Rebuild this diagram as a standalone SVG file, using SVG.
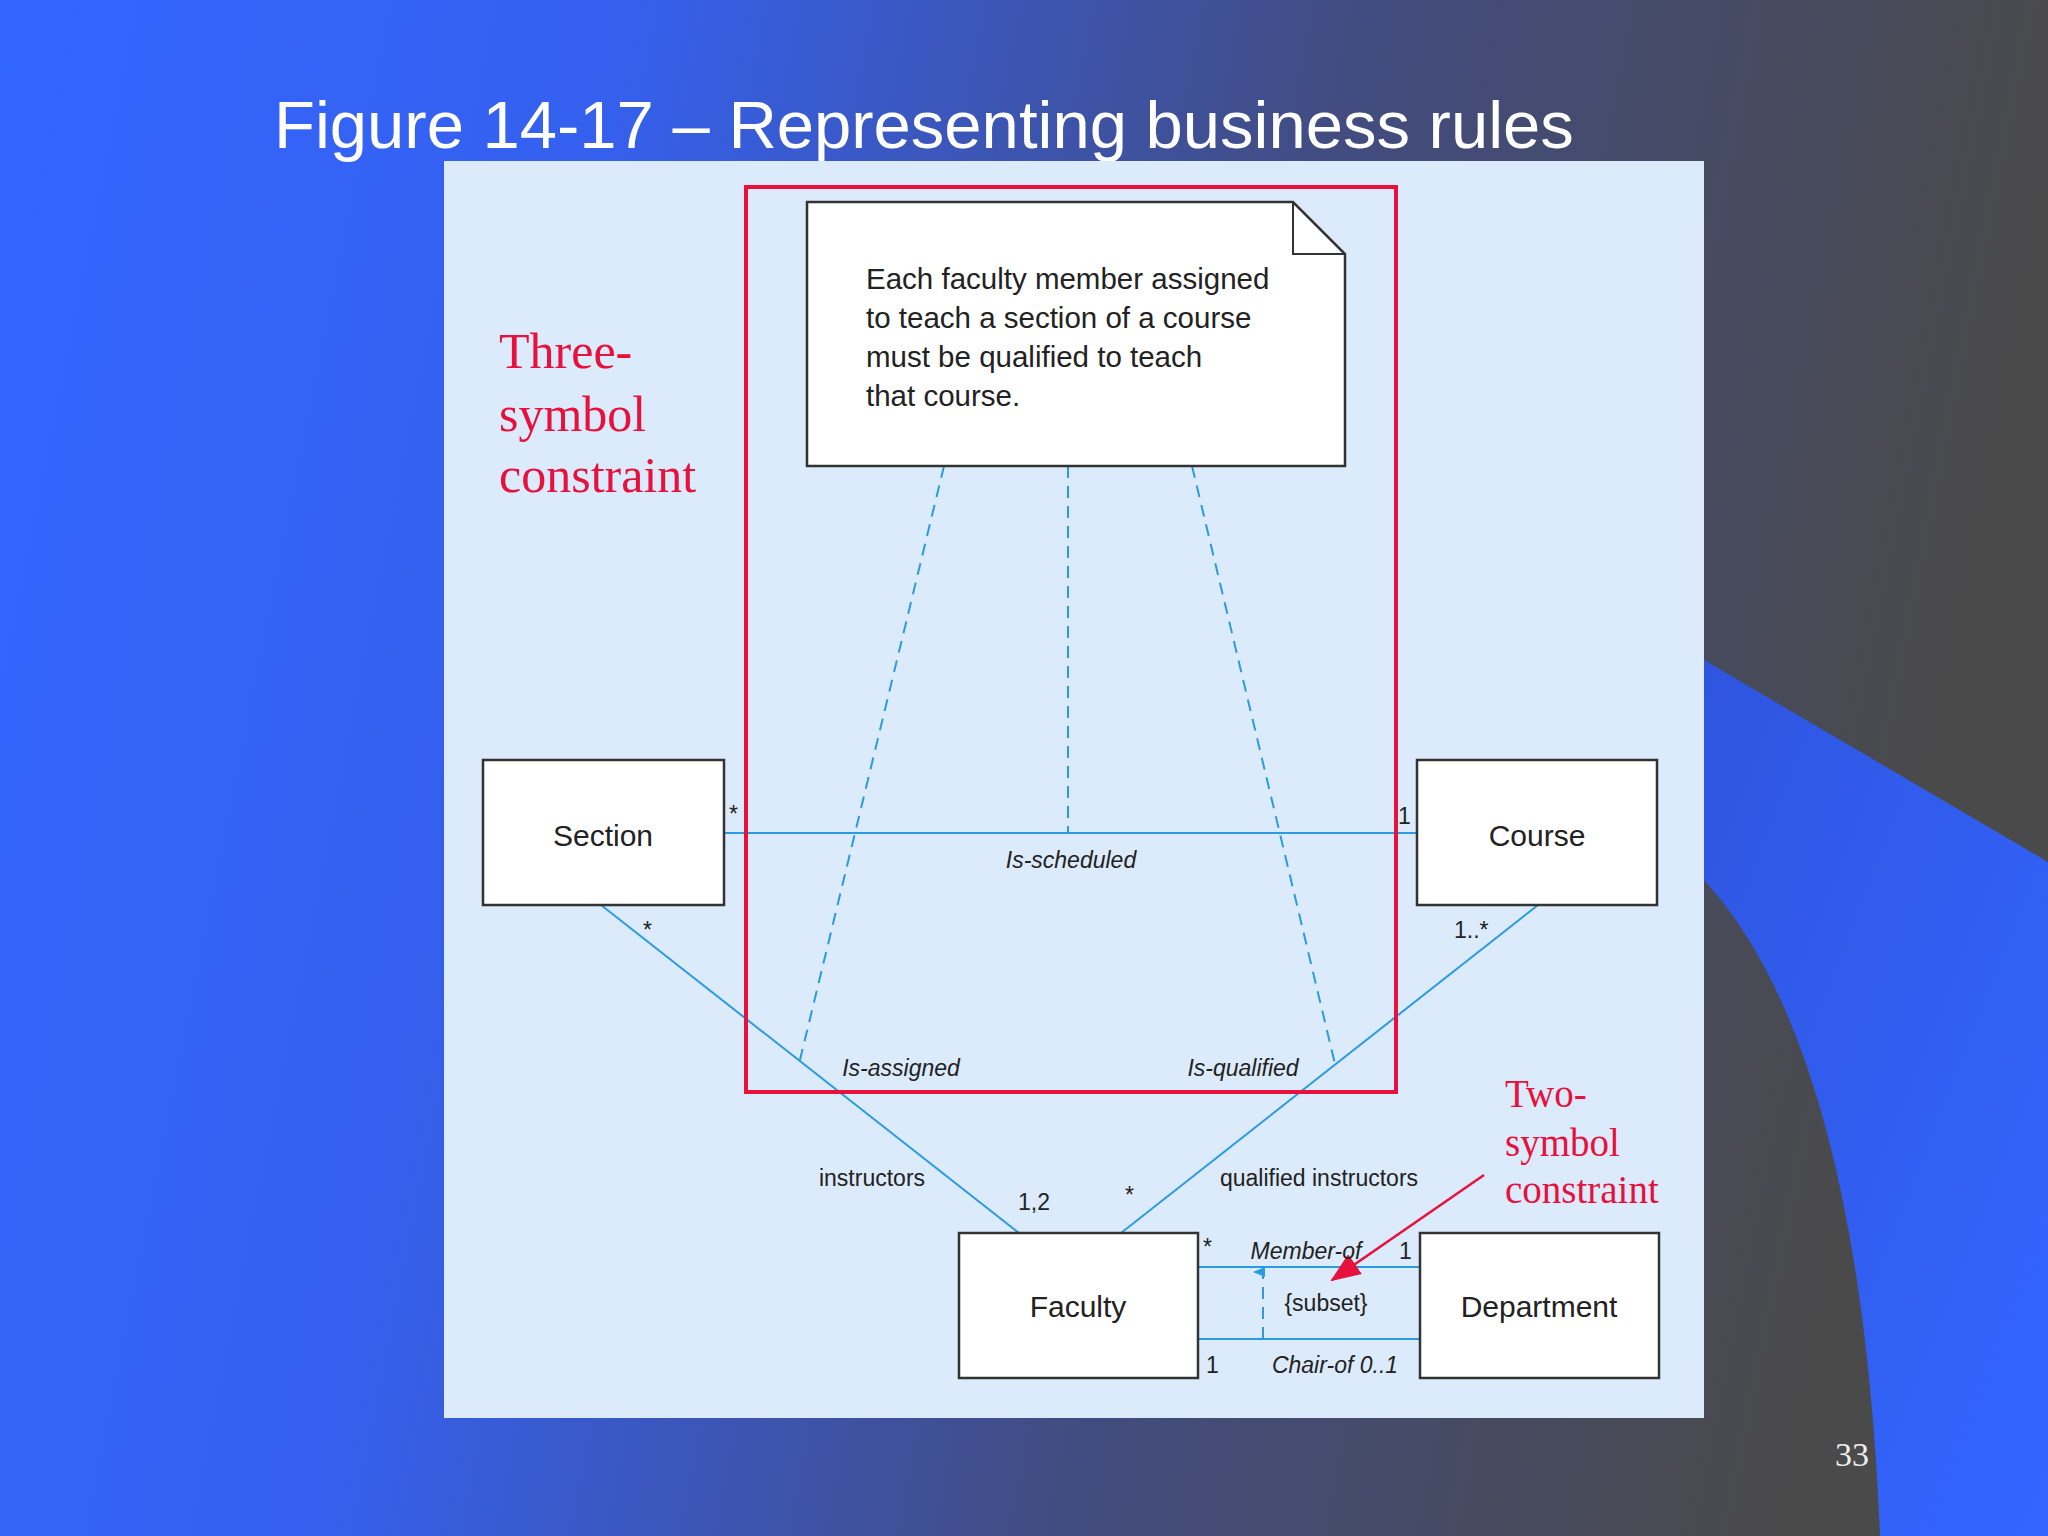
<svg xmlns="http://www.w3.org/2000/svg" width="2048" height="1536" viewBox="0 0 2048 1536">
<defs>
<linearGradient id="bg" x1="0" y1="0" x2="1" y2="0.15">
<stop offset="0" stop-color="#3366ff"/><stop offset="0.3" stop-color="#3560ee"/><stop offset="0.65" stop-color="#424c80"/><stop offset="1" stop-color="#4a4a4a"/>
</linearGradient>
<linearGradient id="band" x1="0" y1="0" x2="1" y2="1">
<stop offset="0" stop-color="#2f55e0"/><stop offset="1" stop-color="#3366ff"/>
</linearGradient>
<marker id="ah" markerWidth="12" markerHeight="12" refX="6" refY="10" orient="auto" markerUnits="userSpaceOnUse"><path d="M1,12 L6,0 L11,12 Z" fill="#2a9be0"/></marker>
<marker id="ra" markerWidth="30" markerHeight="24" refX="28" refY="12" orient="auto" markerUnits="userSpaceOnUse"><path d="M0,0 L30,12 L0,24 Z" fill="#e8103c"/></marker>
<style>
.box{fill:#fff;stroke:#333;stroke-width:2.5}
.ln{stroke:#2a9be0;stroke-width:2;fill:none}
.dl{stroke:#2a9be0;stroke-width:2;fill:none;stroke-dasharray:12 8}
.t{font-family:"Liberation Sans",Arial,sans-serif;fill:#222}
.nm{font-size:30px;text-anchor:middle}
.lb{font-size:23px}
.it{font-style:italic}
.red{font-family:"Liberation Serif","Times New Roman",serif;fill:#e8103c}
</style>
</defs>
<rect width="2048" height="1536" fill="url(#bg)"/>
<path d="M1704,660 L2048,862 L2048,1536 L1880,1536 Q1860,1050 1704,880 Z" fill="url(#band)"/>
<text x="274" y="148" font-family="Liberation Sans,Arial,sans-serif" font-size="67" fill="#fff">Figure 14-17 – Representing business rules</text>
<rect x="444" y="161" width="1260" height="1257" fill="#dcebfb"/>
<g id="connectors">
<line class="ln" x1="724" y1="833" x2="1417" y2="833"/>
<line class="ln" x1="601" y1="905" x2="1019" y2="1233"/>
<line class="ln" x1="1538" y1="905" x2="1121" y2="1233"/>
<line class="dl" x1="944" y1="466" x2="799" y2="1064"/>
<line class="dl" x1="1068" y1="466" x2="1068" y2="833"/>
<line class="dl" x1="1192" y1="466" x2="1335" y2="1064"/>
<line class="ln" x1="1198" y1="1267" x2="1420" y2="1267"/>
<line class="ln" x1="1198" y1="1339" x2="1420" y2="1339"/>
<line class="dl" x1="1263" y1="1339" x2="1263" y2="1272" marker-end="url(#ah)"/>
<line x1="1484" y1="1175" x2="1332" y2="1280" stroke="#e8103c" stroke-width="2.5" marker-end="url(#ra)"/>
</g>
<rect x="746" y="187" width="650" height="905" fill="none" stroke="#e8103c" stroke-width="4"/>
<g id="note">
<path class="box" d="M807,202 L1293,202 L1345,254 L1345,466 L807,466 Z"/>
<path d="M1293,202 L1293,254 L1345,254" fill="none" stroke="#333" stroke-width="2"/>
<text class="t" font-size="29.5"><tspan x="866" y="289">Each faculty member assigned</tspan><tspan x="866" y="328">to teach a section of a course</tspan><tspan x="866" y="367">must be qualified to teach</tspan><tspan x="866" y="406">that course.</tspan></text>
</g>
<g id="section"><rect class="box" x="483" y="760" width="241" height="145"/><text class="t nm" x="603" y="846">Section</text></g>
<g id="course"><rect class="box" x="1417" y="760" width="240" height="145"/><text class="t nm" x="1537" y="846">Course</text></g>
<g id="faculty"><rect class="box" x="959" y="1233" width="239" height="145"/><text class="t nm" x="1078" y="1317">Faculty</text></g>
<g id="department"><rect class="box" x="1420" y="1233" width="239" height="145"/><text class="t nm" x="1539" y="1317">Department</text></g>
<g id="labels">
<text class="t lb" x="729" y="822">*</text>
<text class="t lb" x="1398" y="824">1</text>
<text class="t lb it" x="1071" y="868" text-anchor="middle">Is-scheduled</text>
<text class="t lb" x="643" y="938">*</text>
<text class="t lb" x="1454" y="938">1..*</text>
<text class="t lb it" x="901" y="1076" text-anchor="middle">Is-assigned</text>
<text class="t lb it" x="1243" y="1076" text-anchor="middle">Is-qualified</text>
<text class="t lb" x="872" y="1186" text-anchor="middle">instructors</text>
<text class="t lb" x="1034" y="1210" text-anchor="middle">1,2</text>
<text class="t lb" x="1125" y="1203">*</text>
<text class="t lb" x="1319" y="1186" text-anchor="middle">qualified instructors</text>
<text class="t lb" x="1203" y="1255">*</text>
<text class="t lb it" x="1306" y="1259" text-anchor="middle">Member-of</text>
<text class="t lb" x="1399" y="1259">1</text>
<text class="t lb" x="1326" y="1311" text-anchor="middle">{subset}</text>
<text class="t lb" x="1206" y="1373">1</text>
<text class="t lb it" x="1335" y="1373" text-anchor="middle">Chair-of  0..1</text>
</g>
<text class="red" font-size="50"><tspan x="499" y="368">Three-</tspan><tspan x="499" y="431">symbol</tspan><tspan x="499" y="492">constraint</tspan></text>
<text class="red" font-size="39"><tspan x="1505" y="1107">Two-</tspan><tspan x="1505" y="1156">symbol</tspan><tspan x="1505" y="1203">constraint</tspan></text>
<text x="1852" y="1466" font-family="Liberation Serif,serif" font-size="34" fill="#eee" text-anchor="middle">33</text>
</svg>
